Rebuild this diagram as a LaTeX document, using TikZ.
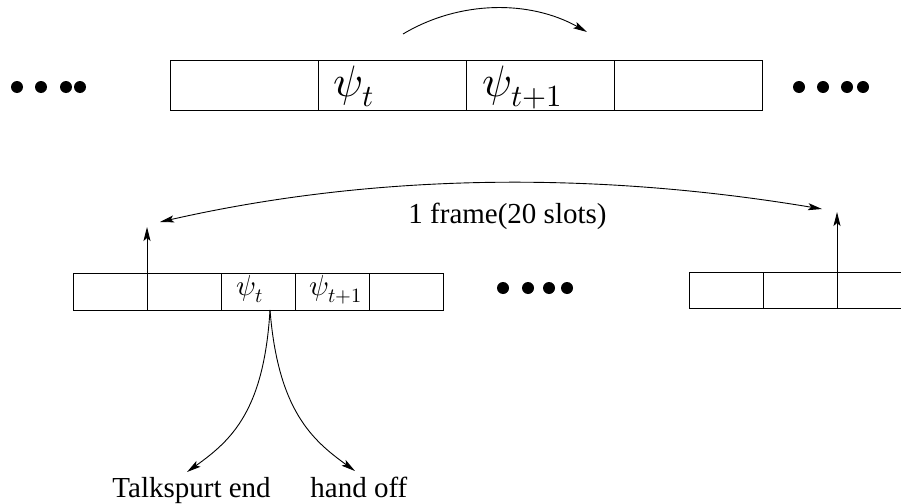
\documentclass[tikz,border=0pt]{standalone}
\usepackage{fontspec}
\setmainfont{Liberation Serif}
\usepackage{unicode-math}
\setmathfont{Latin Modern Math}
\usetikzlibrary{arrows.meta}
\begin{document}
\begin{tikzpicture}[x=1pt,y=-1pt,
  line width=0.9pt,
  arr/.style={-{Stealth[length=14pt,width=7pt,inset=3pt]}},
  darr/.style={{Stealth[length=14pt,width=7pt,inset=3pt]}-{Stealth[length=14pt,width=7pt,inset=3pt]}},
  bigcell/.style={draw,rectangle,minimum width=148pt,minimum height=50pt,inner sep=0pt,outer sep=0pt,anchor=north west},
  smallcell/.style={draw,rectangle,minimum width=74pt,minimum height=37pt,inner sep=0pt,outer sep=0pt,anchor=north west},
  bigpsi/.style={font=\fontsize{44}{48}\selectfont,inner sep=0pt,anchor=base west},
  smallpsi/.style={font=\fontsize{29}{32}\selectfont,inner sep=0pt,anchor=base west},
  dot/.style={circle,fill=black,inner sep=0pt,minimum size=12pt},
  lbl/.style={font=\fontsize{29}{32}\selectfont,inner sep=0pt,anchor=base west}
]
\useasboundingbox (0,0) rectangle (901,503);
% top row
\node[bigcell] (t1) at (170,60) {};
\node[bigcell] (t2) at (318,60) {};
\node[bigcell] (t3) at (466,60) {};
\node[bigcell] (t4) at (614,60) {};
\node[bigpsi] (tp1) at (333,96) {$\psi_t$};
\node[bigpsi] (tp2) at (482,96) {$\psi_{t+1}$};
\coordinate (ta) at (403,34);
\coordinate (tb) at (587,32);
\draw[arr] (ta) .. controls (460,0) and (530,0) .. (tb);
% dots top
\foreach \x/\n in {17/a,41/b,66/c,80/d}{\node[dot] (ld\n) at (\x,87) {};}
\foreach \x/\n in {799/a,823/b,847/c,863/d}{\node[dot] (rd\n) at (\x,87) {};}
% bottom left frame
\node[smallcell] (b1) at (73,273) {};
\node[smallcell] (b2) at (147,273) {};
\node[smallcell] (b3) at (221,273) {};
\node[smallcell] (b4) at (295,273) {};
\node[smallcell] (b5) at (369,273) {};
\node[smallpsi] (bp1) at (236,295) {$\psi_t$};
\node[smallpsi] (bp2) at (309,295) {$\psi_{t+1}$};
% bottom right frame
\node[smallcell,minimum height=36pt] (c1) at (689,272) {};
\node[smallcell,minimum height=36pt] (c2) at (763,272) {};
\coordinate (c3t) at (905,272);
\coordinate (c3b) at (905,308);
\draw (c2.north east) -- (c3t);
\draw (c2.south east) -- (c3b);
% middle dots
\foreach \x/\n in {503/a,528/b,549/c,567/d}{\node[dot] (md\n) at (\x,288) {};}
% up arrows
\coordinate (ua) at (147,227);
\coordinate (ub) at (837,212);
\draw[arr] (b1.north east) -- (ua);
\draw[arr] (c2.north east) -- (ub);
% frame arrow
\coordinate (fa) at (160,222);
\coordinate (fb) at (822,209);
\draw[darr] (fa) .. controls (380,172) and (600,172) .. (fb);
\node[lbl] (fl) at (408,223) {1 frame(20 slots)};
% branch arrows
\coordinate (src) at (270,310);
\coordinate (ea) at (187,472);
\coordinate (eb) at (355,471);
\draw[arr] (src) .. controls (264,410) and (232,440) .. (ea);
\draw[arr] (src) .. controls (278,410) and (312,440) .. (eb);
\node[lbl] (l1) at (112,497) {Talkspurt end};
\node[lbl] (l2) at (310,497) {hand off};
\end{tikzpicture}
\end{document}
